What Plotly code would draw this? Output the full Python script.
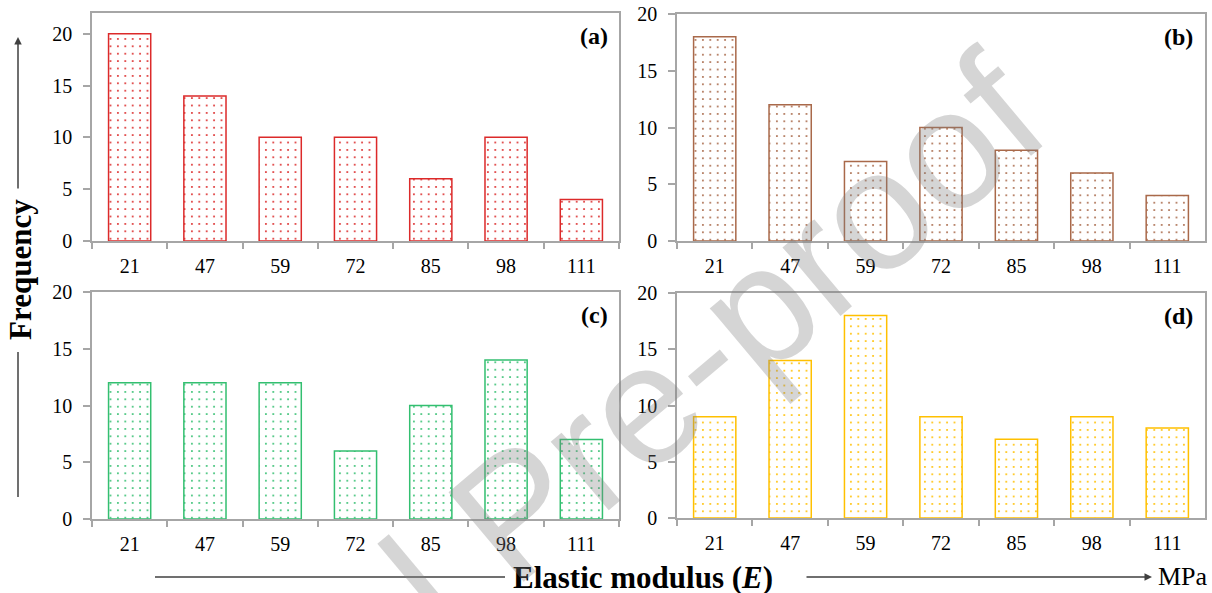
import plotly.graph_objects as go

# ---- data ----
categories = ["21", "47", "59", "72", "85", "98", "111"]
freq_a = [20, 14, 10, 10, 6, 10, 4]
freq_b = [18, 12, 7, 10, 8, 6, 4]
freq_c = [12, 12, 12, 6, 10, 14, 7]
freq_d = [9, 14, 18, 9, 7, 9, 8]
panel_labels = ["(a)", "(b)", "(c)", "(d)"]
y_max = [22, 20, 20, 20]

colors = ["#DC2A2A", "#A9694A", "#33BF70", "#FFC000"]

W, H = 1212, 593
def px(x):
    return x / W
def py(y):
    return 1 - y / H

# panel plot-area boxes in pixels: left, right, top, bottom
boxes = [
    (92, 619, 13, 241),
    (677, 1205, 14, 241),
    (92, 619, 292, 519),
    (677, 1205, 293, 518),
]

series = [freq_a, freq_b, freq_c, freq_d]
fig = go.Figure()

axis_color = "#A6A6A6"
serif = "Liberation Serif, Times New Roman, serif"
tick_font = dict(family=serif, size=20, color="black")

layout = dict(
    width=W, height=H,
    margin=dict(l=0, r=0, t=0, b=0, pad=0, autoexpand=False),
    paper_bgcolor="white", plot_bgcolor="white",
    showlegend=False,
    bargap=0.44,
)

annotations = []
for i, (vals, col, box) in enumerate(zip(series, colors, boxes)):
    n = "" if i == 0 else str(i + 1)
    fig.add_trace(go.Bar(
        x=categories, y=vals,
        xaxis="x" + n, yaxis="y" + n,
        marker=dict(
            color="white",
            line=dict(color=col, width=1.5),
            pattern=dict(shape=".", fgcolor=col, bgcolor="white",
                         size=7.4, solidity=0.06, fillmode="replace"),
        ),
        hoverinfo="x+y",
    ))
    l, r, t, b = box
    layout["xaxis" + n] = dict(
        domain=[px(l), px(r)], anchor="y" + n, automargin=False,
        type="category", tickson="boundaries",
        ticks="outside", ticklen=6, tickwidth=1.5, tickcolor=axis_color,
        showline=True, linecolor=axis_color, linewidth=1.5, mirror=True,
        showgrid=False, tickfont=tick_font, ticklabelstandoff=6,
    )
    layout["yaxis" + n] = dict(
        domain=[py(b), py(t)], anchor="x" + n, automargin=False,
        range=[0, y_max[i]], tickvals=[0, 5, 10, 15, 20],
        ticks="outside", ticklen=7, tickwidth=1.5, tickcolor=axis_color,
        showline=True, linecolor=axis_color, linewidth=1.5, mirror=True,
        showgrid=False, zeroline=False, tickfont=tick_font, ticklabelstandoff=7,
    )
    annotations.append(dict(
        text="<b>" + panel_labels[i] + "</b>",
        xref="x" + n + " domain", yref="y" + n + " domain",
        x=0.982, y=0.9, xanchor="right", yanchor="middle",
        showarrow=False,
        font=dict(family=serif, size=24, color="black"),
    ))

line_col = "#404040"
# Y-axis title with arrow
annotations.append(dict(
    text="<b>Frequency</b>", xref="paper", yref="paper",
    x=px(20), y=py(270), xanchor="center", yanchor="middle",
    textangle=-90, showarrow=False,
    font=dict(family=serif, size=31, color="black"),
))
annotations.append(dict(
    text="", xref="paper", yref="paper", x=px(18), y=py(37),
    ax=0, ay=153, axref="pixel", ayref="pixel",
    showarrow=True, arrowhead=2, arrowsize=1, arrowwidth=1.5, arrowcolor=line_col,
))
# X-axis title with arrow
annotations.append(dict(
    text="<b>Elastic modulus (<i>E</i>)</b>", xref="paper", yref="paper",
    x=px(643), y=py(577), xanchor="center", yanchor="middle", showarrow=False,
    font=dict(family=serif, size=31, color="black"),
))
annotations.append(dict(
    text="", xref="paper", yref="paper", x=px(1152), y=py(577),
    ax=-347, ay=0, axref="pixel", ayref="pixel",
    showarrow=True, arrowhead=2, arrowsize=1, arrowwidth=1.5, arrowcolor=line_col,
))
annotations.append(dict(
    text="MPa", xref="paper", yref="paper",
    x=px(1156), y=py(576), xanchor="left", yanchor="middle", showarrow=False,
    font=dict(family=serif, size=26, color="black"),
))
# Watermark
annotations.append(dict(
    text="Journal Pre-proof", xref="paper", yref="paper",
    x=px(515), y=py(512), xanchor="center", yanchor="middle",
    textangle=-40, showarrow=False,
    font=dict(family="Liberation Sans, Arial, sans-serif", size=170,
              color="rgba(128,128,128,0.33)"),
))

layout["annotations"] = annotations
layout["shapes"] = [
    dict(type="line", xref="paper", yref="paper",
         x0=px(18), x1=px(18), y0=py(352), y1=py(497),
         line=dict(color=line_col, width=1.5)),
    dict(type="line", xref="paper", yref="paper",
         x0=px(155), x1=px(505), y0=py(577), y1=py(577),
         line=dict(color=line_col, width=1.5)),
]

fig.update_layout(**layout)
fig.write_html("out.html")
